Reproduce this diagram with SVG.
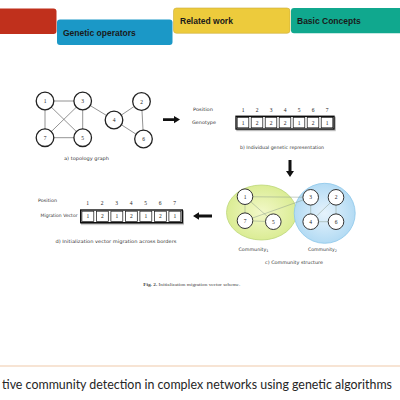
<svg xmlns="http://www.w3.org/2000/svg" width="400" height="400" viewBox="0 0 400 400">
<defs>
<style>
.tab{font-family:"Liberation Sans",Arial,sans-serif;font-weight:bold;font-size:8.5px;fill:#1a1a1a}
.t{font-family:"DejaVu Sans",Verdana,sans-serif;font-size:4.6px;fill:#333}
.n{font-family:"Liberation Serif",serif;font-size:5.5px;fill:#222;text-anchor:middle}
.node{fill:#fff;stroke:#222;stroke-width:1.3}
.cnode{fill:#fff;stroke:#333;stroke-width:1}
.edge{stroke:#777;stroke-width:0.8;fill:none}
.cedge{stroke:#8a9a8a;stroke-width:0.6;fill:none;opacity:0.8}
.cell{fill:none;stroke:#111;stroke-width:0.7}
.outer{fill:#fff;stroke:#111;stroke-width:1.4}
</style>
<radialGradient id="gg" cx="0.5" cy="0.5" r="0.6">
<stop offset="0" stop-color="#f2f8c8"/><stop offset="1" stop-color="#d6ea8a"/>
</radialGradient>
<radialGradient id="bg" cx="0.5" cy="0.5" r="0.6">
<stop offset="0" stop-color="#e6f3fc"/><stop offset="1" stop-color="#a9d6f2"/>
</radialGradient>
<filter id="sh" x="-10%" y="-30%" width="130%" height="180%"><feDropShadow dx="1" dy="1.2" stdDeviation="0.7" flood-color="#000" flood-opacity="0.35"/></filter>
</defs>
<rect width="400" height="400" fill="#fff"/>

<g id="tabs">
<rect x="-5" y="8.5" width="61.5" height="25.5" rx="3" fill="#C0301C"/>
<rect x="57" y="19.5" width="115.5" height="25.5" rx="3" fill="#1B98C7"/>
<text class="tab" x="63" y="36">Genetic operators</text>
<rect x="173.5" y="8" width="116.5" height="25.3" rx="3" fill="#EDCB3C" stroke="#c9ad3a" stroke-width="0.6"/>
<text class="tab" x="180" y="24">Related work</text>
<rect x="291" y="8" width="115" height="25.3" rx="3" fill="#10A88E"/>
<text class="tab" x="297" y="24">Basic Concepts</text>
</g>

<g id="connectors">
<line class="edge" x1="45" y1="101" x2="82.7" y2="101"/>
<line class="edge" x1="45" y1="101" x2="45" y2="137.7"/>
<line class="edge" x1="45" y1="101" x2="82.7" y2="137.7"/>
<line class="edge" x1="82.7" y1="101" x2="45" y2="137.7"/>
<line class="edge" x1="82.7" y1="101" x2="82.7" y2="137.7"/>
<line class="edge" x1="45" y1="137.7" x2="82.7" y2="137.7"/>
<line class="edge" x1="82.7" y1="101" x2="114" y2="120"/>
<line class="edge" x1="114" y1="120" x2="141.5" y2="101.5"/>
<line class="edge" x1="114" y1="120" x2="143.5" y2="139"/>
<line class="edge" x1="141.5" y1="101.5" x2="143.5" y2="139"/>
</g>

<g id="topology">
<g id="n1"><circle class="node" cx="45" cy="101" r="8.8"/><text class="n" x="45" y="103">1</text></g>
<g id="n3"><circle class="node" cx="82.7" cy="101" r="8.8"/><text class="n" x="82.7" y="103">3</text></g>
<g id="n7"><circle class="node" cx="45" cy="137.7" r="8.8"/><text class="n" x="45" y="139.7">7</text></g>
<g id="n5"><circle class="node" cx="82.7" cy="137.7" r="8.8"/><text class="n" x="82.7" y="139.7">5</text></g>
<g id="n4"><circle class="node" cx="114" cy="120" r="8.8"/><text class="n" x="114" y="122">4</text></g>
<g id="n2"><circle class="node" cx="141.5" cy="101.5" r="8.8"/><text class="n" x="141.5" y="103.5">2</text></g>
<g id="n6"><circle class="node" cx="143.5" cy="139" r="8.8"/><text class="n" x="143.5" y="141">6</text></g>
<text class="t" x="86.5" y="160" text-anchor="middle" textLength="45" lengthAdjust="spacingAndGlyphs">a) topology graph</text>
</g>

<g id="arrows" fill="#111">
<path d="M163,118.3 H174 V116 L180,119.6 L174,123.2 V121 H163 Z"/>
<path d="M288.5,160 V171 H286 L290,177 L294,171 H291.5 V160 Z"/>
<path d="M212,214.6 H199 V212.3 L193,216 L199,219.7 V217.4 H212 Z"/>
</g>

<g id="genotype">
<text class="t" x="193" y="110.5" textLength="20" lengthAdjust="spacingAndGlyphs">Position</text>
<text class="t" x="192" y="124.3" textLength="24" lengthAdjust="spacingAndGlyphs">Genotype</text>
<g class="n">
<text x="243" y="112">1</text><text x="257" y="112">2</text><text x="271" y="112">3</text><text x="285" y="112">4</text><text x="299" y="112">5</text><text x="313" y="112">6</text><text x="327" y="112">7</text>
</g>
<rect class="outer" x="236" y="116.3" width="98" height="12.7" filter="url(#sh)"/>
<g class="cell">
<rect x="237.2" y="117.5" width="11.6" height="10.3"/><rect x="251.2" y="117.5" width="11.6" height="10.3"/><rect x="265.2" y="117.5" width="11.6" height="10.3"/><rect x="279.2" y="117.5" width="11.6" height="10.3"/><rect x="293.2" y="117.5" width="11.6" height="10.3"/><rect x="307.2" y="117.5" width="11.6" height="10.3"/><rect x="321.2" y="117.5" width="11.6" height="10.3"/>
</g>
<g class="n">
<text x="243" y="124.5">1</text><text x="257" y="124.5">2</text><text x="271" y="124.5">2</text><text x="285" y="124.5">2</text><text x="299" y="124.5">1</text><text x="313" y="124.5">2</text><text x="327" y="124.5">1</text>
</g>
<text class="t" x="282" y="149" text-anchor="middle" textLength="84" lengthAdjust="spacingAndGlyphs">b) Individual genetic representation</text>
</g>

<g id="community">
<ellipse cx="261.5" cy="212.5" rx="35" ry="27.5" fill="url(#gg)" stroke="#bcd77a" stroke-width="0.8"/>
<ellipse cx="324.7" cy="213.3" rx="30.5" ry="30" fill="url(#bg)" stroke="#8cc6ea" stroke-width="0.8"/>
<g id="cedges">
<line class="cedge" x1="245" y1="196.7" x2="310.7" y2="197.3"/>
<line class="cedge" x1="245" y1="196.7" x2="245" y2="220.7"/>
<line class="cedge" x1="245" y1="196.7" x2="273.3" y2="221.7"/>
<line class="cedge" x1="245" y1="220.7" x2="310.7" y2="197.3"/>
<line class="cedge" x1="245" y1="220.7" x2="273.3" y2="221.7"/>
<line class="cedge" x1="310.7" y1="197.3" x2="310.7" y2="221.7"/>
<line class="cedge" x1="310.7" y1="221.7" x2="336" y2="197.3"/>
<line class="cedge" x1="310.7" y1="221.7" x2="336" y2="221.7"/>
<line class="cedge" x1="336" y1="197.3" x2="336" y2="221.7"/>
</g>
<g id="c1"><circle class="cnode" cx="245" cy="196.7" r="7.8"/><text class="n" x="245" y="198.7">1</text></g>
<g id="c7"><circle class="cnode" cx="245" cy="220.7" r="7.8"/><text class="n" x="245" y="222.7">7</text></g>
<g id="c5"><circle class="cnode" cx="273.3" cy="221.7" r="7.8"/><text class="n" x="273.3" y="223.7">5</text></g>
<g id="c3"><circle class="cnode" cx="310.7" cy="197.3" r="7.8"/><text class="n" x="310.7" y="199.3">3</text></g>
<g id="c2"><circle class="cnode" cx="336" cy="197.3" r="7.8"/><text class="n" x="336" y="199.3">2</text></g>
<g id="c4"><circle class="cnode" cx="310.7" cy="221.7" r="7.8"/><text class="n" x="310.7" y="223.7">4</text></g>
<g id="c6"><circle class="cnode" cx="336" cy="221.7" r="7.8"/><text class="n" x="336" y="223.7">6</text></g>
<text class="t" x="238.5" y="251" textLength="30" lengthAdjust="spacingAndGlyphs">Community<tspan font-size="3.4" dy="1.2">1</tspan></text>
<text class="t" x="308" y="250.5" textLength="29" lengthAdjust="spacingAndGlyphs">Community<tspan font-size="3.4" dy="1.2">2</tspan></text>
<text class="t" x="294" y="264" text-anchor="middle" textLength="58" lengthAdjust="spacingAndGlyphs">c) Community structure</text>
</g>

<g id="migration">
<text class="t" x="38" y="201.5" textLength="19" lengthAdjust="spacingAndGlyphs">Position</text>
<text class="t" x="40.5" y="217.3" textLength="37" lengthAdjust="spacingAndGlyphs">Migration Vector</text>
<g class="n">
<text x="87.5" y="205">1</text><text x="102" y="205">2</text><text x="116.5" y="205">3</text><text x="131" y="205">4</text><text x="145.5" y="205">5</text><text x="160" y="205">6</text><text x="174.5" y="205">7</text>
</g>
<rect class="outer" x="80.7" y="210" width="101.6" height="12.7" filter="url(#sh)"/>
<g class="cell">
<rect x="81.9" y="211.2" width="11.9" height="10.3"/><rect x="96.4" y="211.2" width="11.9" height="10.3"/><rect x="110.9" y="211.2" width="11.9" height="10.3"/><rect x="125.4" y="211.2" width="11.9" height="10.3"/><rect x="139.9" y="211.2" width="11.9" height="10.3"/><rect x="154.4" y="211.2" width="11.9" height="10.3"/><rect x="168.9" y="211.2" width="11.9" height="10.3"/>
</g>
<g class="n">
<text x="87.8" y="218.2">1</text><text x="102.3" y="218.2">2</text><text x="116.8" y="218.2">1</text><text x="131.3" y="218.2">2</text><text x="145.8" y="218.2">1</text><text x="160.3" y="218.2">2</text><text x="174.8" y="218.2">1</text>
</g>
<text class="t" x="116" y="242.5" text-anchor="middle" textLength="121" lengthAdjust="spacingAndGlyphs">d) Initialization vector migration across borders</text>
</g>

<text x="143.3" y="285.5" font-family="Liberation Serif,serif" font-size="4" fill="#444" textLength="97" lengthAdjust="spacingAndGlyphs"><tspan font-weight="bold">Fig. 2.</tspan>  Initialization migration vector scheme.</text>

<line x1="0" y1="366" x2="400" y2="366" stroke="#efc9a9" stroke-width="1"/>
<text x="2" y="389" font-family="Lato,Liberation Sans,sans-serif" font-size="12.5" fill="#262626" textLength="390" lengthAdjust="spacingAndGlyphs">tive community detection in complex networks using genetic algorithms</text>
</svg>
